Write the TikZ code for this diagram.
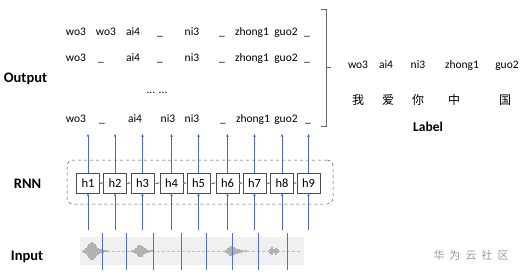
\documentclass[tikz,border=0pt]{standalone}
\usepackage{fontspec}
\setmainfont{Carlito}
\newfontfamily\cjk{Noto Sans CJK SC}
\usetikzlibrary{arrows.meta}
\definecolor{lineblue}{RGB}{70,106,196}
\definecolor{cutblue}{RGB}{84,110,210}
\begin{document}
\begin{tikzpicture}[x=1pt,y=-1pt,
  word/.style={anchor=base,inner sep=0pt,font=\fontsize{11.5}{13}\selectfont},
  side/.style={anchor=base,inner sep=0pt,font=\fontsize{14.5}{16}\selectfont\bfseries},
  hanzi/.style={anchor=base,inner sep=0pt,font=\cjk\fontsize{12}{14}\selectfont},
  hbox/.style={draw=black!70,line width=0.6pt,minimum width=23pt,minimum height=20pt,inner sep=0pt,font=\fontsize{12.5}{14}\selectfont},
  up/.style={draw=lineblue,line width=0.9pt,-{Stealth[length=3pt,width=2.6pt]}},
  link/.style={draw=black!50,line width=0.5pt,-{Stealth[length=2.5pt,width=2pt]}}]
\useasboundingbox (0,0) rectangle (525,278);
% side labels
\node[side] (lout) at (25.5,82) {Output};
\node[side] (lrnn) at (27.5,188) {RNN};
\node[side] (lin) at (27,260) {Input};
% output rows
\foreach \t/\x [count=\i] in {wo3/76,wo3/106,ai4/133,\_/160,ni3/192,\_/222,zhong1/252,guo2/286,\_/307}
  \node[word] (ra\i) at (\x,36) {\t};
\foreach \t/\x [count=\i] in {wo3/76,\_/101,ai4/133,\_/160,ni3/192,\_/222,zhong1/252,guo2/286,\_/307}
  \node[word] (rb\i) at (\x,62) {\t};
\node[word] (dots) at (157,93) {... ...};
\foreach \t/\x [count=\i] in {wo3/76,\_/102,ai4/135,ni3/168,ni3/192,\_/223,zhong1/253,guo2/286,\_/308}
  \node[word] (rc\i) at (\x,122) {\t};
% bracket
\coordinate (bt) at (321,9);
\coordinate (bb) at (321,126);
\coordinate (bm) at (326,67);
\draw[black!60,line width=0.6pt] (bt) -- ++(5,0) -- ++(0,117) -- (bb);
\draw[black!60,line width=0.6pt] (bm) -- ++(5,0);
% label column
\foreach \t/\x [count=\i] in {wo3/358,ai4/386,ni3/418,zhong1/462,guo2/507}
  \node[word] (lw\i) at (\x,69) {\t};
\foreach \t/\x [count=\i] in {我/358,爱/388,你/418,中/454,国/505}
  \node[hanzi] (lc\i) at (\x,104) {\t};
\node[side,font=\fontsize{13.5}{15}\selectfont\bfseries] (lab) at (428,131) {Label};
% RNN dashed box
\node[draw=black!70,dashed,rounded corners=6pt,line width=0.5pt,minimum width=266pt,minimum height=44pt] (rnnbox) at (200,182) {};
\foreach \x [count=\i] in {88,115,142.5,171.5,198.5,227.5,254.5,282,308.5} {
  \node[hbox] (h\i) at (\x,183) {h\i};
  \coordinate (top\i) at (\x,134);
  \coordinate (bot\i) at (\x,230);
  \draw[up] (h\i.north) -- (top\i);
  \draw[up] (bot\i) -- (h\i.south);
}
\foreach \i [evaluate=\i as \j using int(\i+1)] in {1,...,8}
  \draw[link] (h\i.east) -- (h\j.west);
% input waveform
\fill[black!6] (80,237) rectangle (304,265);
\draw[black!25,densely dashed,line width=0.4pt] (82,251) -- (300,251);
\foreach \x/\h in {84/1.5,86/3,87.5/5,89/7,90.5/8.5,92/9,93.5/8.5,95/7,96.5/5,98/3.5,99.5/2.5,101/2,103/1.5,105/1.2,107/1,
  132/1,134/1.5,136/3,137.5/5,139/6,140.5/6,142/5.5,143.5/4,145/3,146.5/2,148/1.5,150/1.2,152/1,
  226/1.5,228/3,229.5/4.5,231/5,232.5/4.5,234/4,235.5/3,237/2.5,239/2,241/1.5,243/1.2,246/1,
  270/2.5,272/4,274/2,276/3.5,278/2}
  \draw[black!30,line width=1.1pt] (\x,251-\h) -- (\x,251+\h);
\foreach \x [count=\i] in {102,126,153,181,206,232,258,287} {
  \coordinate (ct\i) at (\x,233);
  \coordinate (cb\i) at (\x,270);
  \draw[cutblue,line width=0.9pt] (ct\i) -- (cb\i);
}
% watermark
\node[anchor=base,inner sep=0pt,font=\cjk\fontsize{11}{12}\selectfont,text=black!40] (wm) at (471,259) {华\hspace{5pt}为\hspace{5pt}云\hspace{5pt}社\hspace{5pt}区};
\end{tikzpicture}
\end{document}
